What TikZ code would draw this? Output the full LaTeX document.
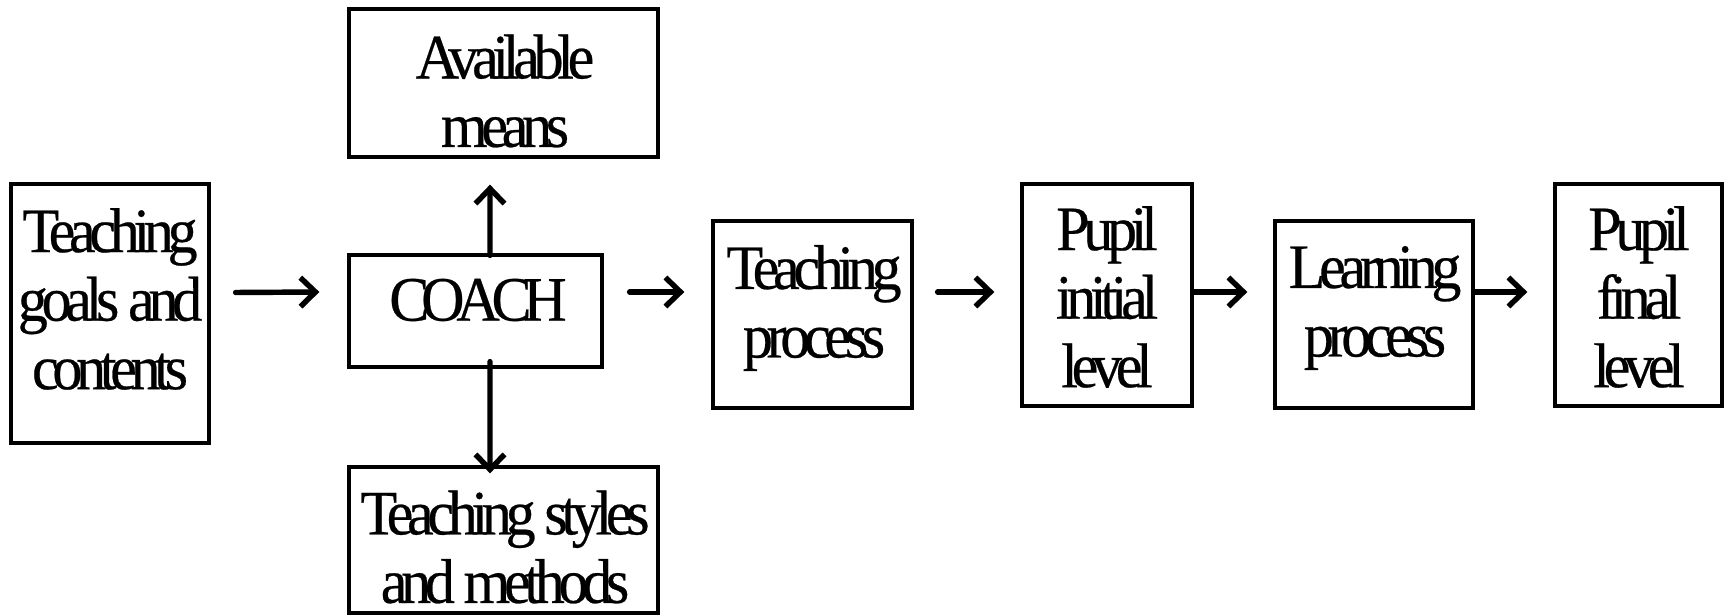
\documentclass[tikz,border=0pt]{standalone}
\usepackage{fontspec}
\setmainfont{Liberation Serif}[FakeStretch=0.95, LetterSpace=-10, FakeBold=0.4]
\usetikzlibrary{arrows.meta,calc}

\begin{document}
\begin{tikzpicture}[x=0.02cm,y=-0.02cm,
  box/.style={draw, line width=1.9pt, inner sep=0pt, rectangle},
  lbl/.style={align=center, inner sep=0pt, font=\fontsize{36}{39}\selectfont},
  arr/.style={line width=3.1pt, line cap=round,
    -{Straight Barb[length=0.3cm,width=0.58cm,line width=3.1pt]}}
]
\useasboundingbox (0,0) rectangle (1725,615);

% frames
\node[box, minimum width=3.96cm, minimum height=5.18cm] (goals)  at (110,313.5) {};
\node[box, minimum width=6.18cm, minimum height=2.96cm] (avail)  at (503.5,83) {};
\node[box, minimum width=5.06cm, minimum height=2.24cm] (coach)  at (475.5,311) {};
\node[box, minimum width=6.18cm, minimum height=2.92cm] (styles) at (503.5,540) {};
\node[box, minimum width=3.98cm, minimum height=3.74cm] (tp)     at (812.5,314.5) {};
\node[box, minimum width=3.40cm, minimum height=4.44cm] (pi)     at (1107,295) {};
\node[box, minimum width=3.96cm, minimum height=3.74cm] (lp)     at (1374,314.5) {};
\node[box, minimum width=3.34cm, minimum height=4.44cm] (pf)     at (1638.5,295) {};

% labels
\node[lbl] (goalsT)  at (110,299)  {Teaching\\goals and\\contents};
\node[lbl] (availT)  at (505,91)   {Available\\means};
\node[lbl] (coachT)  at (478,300)  {\addfontfeatures{LetterSpace=-13}COACH};
\node[lbl] (stylesT) at (505,547)  {Teaching styles\\and methods};
\node[lbl] (tpT)     at (814,308)  {Teaching\\process};
\node[lbl] (piT)     at (1107,297) {Pupil\\initial\\level};
\node[lbl] (lpT)     at (1375,308) {Learning\\process};
\node[lbl] (pfT)     at (1639,297) {Pupil\\final\\level};

% connectors
\draw[arr] ($(goals.east)+(25,-21)$) -- ($(coach.west)+(-28,-19)$);
\draw[arr] ($(coach.east)+(26,-19)$) -- ($(tp.west)+(-27,-22.5)$);
\draw[arr] ($(tp.east)+(24,-22.5)$) -- ($(pi.west)+(-26,-3)$);
\draw[arr] ($(pi.east)+(0,-3)$) -- ($(lp.west)+(-26,-22.5)$);
\draw[arr] ($(lp.east)+(0,-22.5)$) -- ($(pf.west)+(-26,-3)$);
\draw[arr] ($(coach.north)+(14.5,2)$) -- ($(avail.south)+(-13.5,26)$);
\draw[arr] ($(coach.south)+(14.5,-7)$) -- ($(styles.north)+(-13.5,8)$);
\end{tikzpicture}
\end{document}
